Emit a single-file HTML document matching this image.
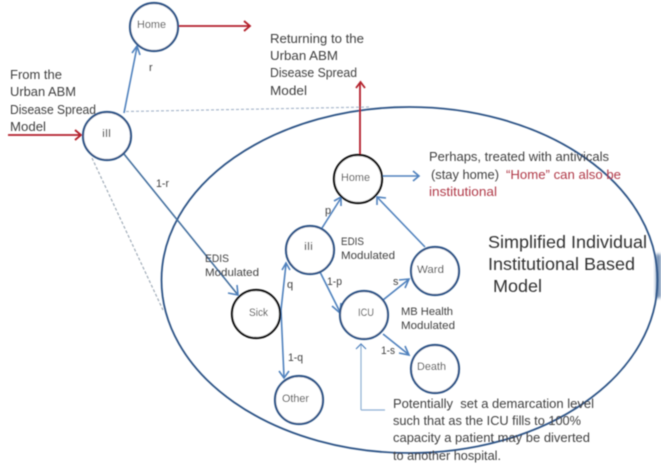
<!DOCTYPE html>
<html><head><meta charset="utf-8"><style>
html,body{margin:0;padding:0;background:#fff}
svg{display:block}
text{font-family:"Liberation Sans",sans-serif;fill:#3f3f3f}
.m{font-size:13px}
.s{font-size:11px}
.b{font-size:17.5px;fill:#333}
.r{fill:#b03a48}
</style></head><body>
<svg width="661" height="464" viewBox="0 0 661 464" xmlns="http://www.w3.org/2000/svg">
<defs>
<linearGradient id="g" x1="0" y1="0" x2="1" y2="0"><stop offset="0" stop-color="#3f6595"/><stop offset="1" stop-color="#b8c8dc"/></linearGradient>
<filter id="bl" x="-5%" y="-5%" width="110%" height="110%"><feGaussianBlur stdDeviation="0.45"/></filter>
<filter id="bl2" x="-50%" y="-20%" width="200%" height="140%"><feGaussianBlur stdDeviation="1.5"/></filter>
</defs>
<rect x="656" y="254" width="6" height="44" fill="url(#g)" filter="url(#bl2)"/>
<g filter="url(#bl)">
<!-- dashed -->
<line x1="126" y1="111.500" x2="370" y2="107" stroke="#a9b8cc" stroke-width="1.2" stroke-dasharray="3 2"/>
<line x1="92" y1="158" x2="163" y2="310" stroke="#a0acb8" stroke-width="1.2" stroke-dasharray="3 2"/>
<!-- big ellipse -->
<ellipse cx="409.500" cy="280" rx="248" ry="173" fill="none" stroke="#2f5587" stroke-width="1.8"/>
<!-- blue connectors -->
<g fill="none" stroke="#4f81bd" stroke-width="1.6">
<path d="M124 113L137 47"/><path d="M132 53L137 46L140 55"/>
<path d="M124 154L238 295" stroke="#44709f"/><path d="M228 293L238 295L237 285"/>
<path d="M383 176H419"/><path d="M413 171L419 176L413 181"/>
<path d="M322 228L341 198"/><path d="M334 201L341 197L341 206"/>
<path d="M425 247L377 197"/><path d="M377 205L377 197L386 198"/>
<path d="M320 272L340 312"/><path d="M332 306L340 313L341 303"/>
<path d="M383 300L408 280"/><path d="M399 280L409 279L405 288"/>
<path d="M383 334L408 354"/><path d="M399 353L409 355L405 346"/>
<path d="M286 264L281 310L284 377"/><path d="M282 270L286 263L290 270"/><path d="M279 371L284 378L289 371"/>
<path d="M361 410V345" stroke="#8fb0d4" stroke-width="1.2"/><path d="M356 349L361 344L366 349" stroke-width="1.2"/>
<path d="M361 410H385" stroke="#8fb0d4" stroke-width="1.2"/>
</g>
<!-- red -->
<g fill="none" stroke="#b3202c" stroke-width="1.8">
<path d="M8 135H80"/><path d="M75 130L81 135L75 140"/>
<path d="M178 26H250"/><path d="M244 21L250 26L244 31"/>
<path d="M360 154V83"/><path d="M356 88L360.500 82L365 88"/>
</g>
<!-- nodes -->
<g fill="#fff" stroke="#2f5587" stroke-width="2.2">
<circle cx="154" cy="27" r="24"/>
<circle cx="107" cy="136" r="24"/>
<circle cx="310" cy="250" r="24"/>
<circle cx="364" cy="315" r="24"/>
<circle cx="435" cy="271" r="24"/>
<circle cx="435" cy="369" r="24"/>
<circle cx="299" cy="400" r="24"/>
</g>
<g fill="#fff" stroke="#111" stroke-width="2.2">
<circle cx="358" cy="179" r="24"/>
<circle cx="256" cy="314" r="24"/>
</g>
<!-- node labels -->
<text class="s" x="137" y="28" textLength="29" lengthAdjust="spacingAndGlyphs">Home</text>
<text class="s" x="102" y="137" textLength="9" lengthAdjust="spacingAndGlyphs">ill</text>
<text class="s" x="341" y="181" textLength="29" lengthAdjust="spacingAndGlyphs">Home</text>
<text class="s" x="304" y="250" textLength="9" lengthAdjust="spacingAndGlyphs">ili</text>
<text class="s" x="249" y="316" textLength="19" lengthAdjust="spacingAndGlyphs">Sick</text>
<text class="s" x="358" y="316" textLength="16" lengthAdjust="spacingAndGlyphs">ICU</text>
<text class="s" x="417" y="273" textLength="27" lengthAdjust="spacingAndGlyphs">Ward</text>
<text class="s" x="417" y="370" textLength="29" lengthAdjust="spacingAndGlyphs">Death</text>
<text class="s" x="282" y="402" textLength="27" lengthAdjust="spacingAndGlyphs">Other</text>
<!-- edge labels -->
<text class="s" x="149" y="71">r</text>
<text class="s" x="156" y="187" textLength="13" lengthAdjust="spacingAndGlyphs">1-r</text>
<text class="s" x="325" y="214">p</text>
<text class="s" x="287" y="288">q</text>
<text class="s" x="288" y="361" textLength="15" lengthAdjust="spacingAndGlyphs">1-q</text>
<text class="s" x="327" y="285" textLength="15" lengthAdjust="spacingAndGlyphs">1-p</text>
<text class="s" x="393" y="285">s</text>
<text class="s" x="381" y="354" textLength="14" lengthAdjust="spacingAndGlyphs">1-s</text>
<!-- annotations -->
<text class="s" x="205" y="262" textLength="24" lengthAdjust="spacingAndGlyphs">EDIS</text>
<text class="s" x="205" y="276" textLength="54" lengthAdjust="spacingAndGlyphs">Modulated</text>
<text class="s" x="341" y="245" textLength="23" lengthAdjust="spacingAndGlyphs">EDIS</text>
<text class="s" x="341" y="259" textLength="54" lengthAdjust="spacingAndGlyphs">Modulated</text>
<text class="s" x="401" y="315" textLength="52" lengthAdjust="spacingAndGlyphs">MB Health</text>
<text class="s" x="401" y="329" textLength="54" lengthAdjust="spacingAndGlyphs">Modulated</text>
<text class="m" x="10" y="79" textLength="52" lengthAdjust="spacingAndGlyphs">From the</text>
<text class="m" x="10" y="96" textLength="66" lengthAdjust="spacingAndGlyphs">Urban ABM</text>
<text class="m" x="10" y="114" textLength="86" lengthAdjust="spacingAndGlyphs">Disease Spread</text>
<text class="m" x="10" y="131" textLength="36" lengthAdjust="spacingAndGlyphs">Model</text>
<text class="m" x="270" y="43" textLength="94" lengthAdjust="spacingAndGlyphs">Returning to the</text>
<text class="m" x="270" y="60" textLength="68" lengthAdjust="spacingAndGlyphs">Urban ABM</text>
<text class="m" x="270" y="77" textLength="87" lengthAdjust="spacingAndGlyphs">Disease Spread</text>
<text class="m" x="270" y="95" textLength="37" lengthAdjust="spacingAndGlyphs">Model</text>
<text class="m" x="429" y="161" textLength="180" lengthAdjust="spacingAndGlyphs">Perhaps, treated with antivicals</text>
<text class="m" x="431" y="179" textLength="68" lengthAdjust="spacingAndGlyphs">(stay home)</text>
<text class="m r" x="506" y="179" textLength="115" lengthAdjust="spacingAndGlyphs">“Home” can also be</text>
<text class="m r" x="429" y="196" textLength="68" lengthAdjust="spacingAndGlyphs">institutional</text>
<text class="b" x="488" y="248" textLength="159" lengthAdjust="spacingAndGlyphs">Simplified Individual</text>
<text class="b" x="488" y="270" textLength="147" lengthAdjust="spacingAndGlyphs">Institutional Based</text>
<text class="b" x="493" y="292" textLength="49" lengthAdjust="spacingAndGlyphs">Model</text>
<text class="m" x="393" y="408" textLength="201" lengthAdjust="spacingAndGlyphs">Potentially&#160; set a demarcation level</text>
<text class="m" x="393" y="425" textLength="188" lengthAdjust="spacingAndGlyphs">such that as the ICU fills to 100%</text>
<text class="m" x="393" y="442" textLength="197" lengthAdjust="spacingAndGlyphs">capacity a patient may be diverted</text>
<text class="m" x="393" y="460" textLength="108" lengthAdjust="spacingAndGlyphs">to another hospital.</text>
</g>
</svg>
</body></html>
